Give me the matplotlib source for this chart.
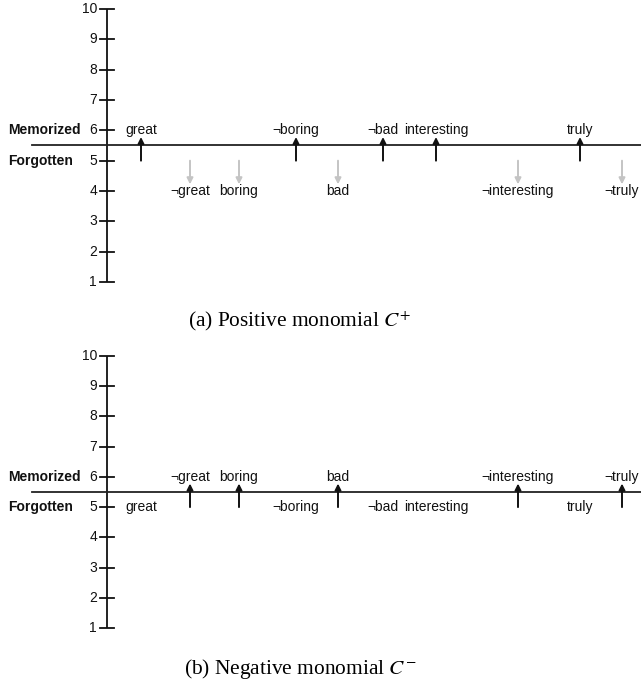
import matplotlib
matplotlib.use("Agg")
import matplotlib.pyplot as plt

plt.rcParams['font.family'] = ['Liberation Sans', 'DejaVu Sans']
plt.rcParams['mathtext.fontset'] = 'stix'

# ---- data ----
words = ["great", "¬great", "boring", "¬boring", "bad", "¬bad",
         "interesting", "¬interesting", "truly", "¬truly"]
word_x = [141, 190, 239, 296, 338, 383, 436, 518, 580, 622]
pos_memorized = [1, 0, 0, 1, 0, 1, 1, 0, 1, 0]
neg_memorized = [0, 1, 1, 0, 1, 0, 0, 1, 0, 1]
y_ticks = [1, 2, 3, 4, 5, 6, 7, 8, 9, 10]
captions = [r"(a) Positive monomial $C^{+}$", r"(b) Negative monomial $C^{-}$"]

W, H = 641, 692
fig = plt.figure(figsize=(W / 100, H / 100), dpi=100)

AXIS_X = 107
BLACK = "#111111"
GRAY = "#c4c4c4"


def panel(top_px, ylims, memorized, show_forgot_arrows, forgot_level):
    ax = fig.add_axes([0, 1 - (top_px + 300) / H, 1, 300 / H])
    ax.set_xlim(0, W)
    ax.set_ylim(*ylims)
    ax.axis("off")
    # vertical axis
    ax.plot([AXIS_X, AXIS_X], [y_ticks[0], y_ticks[-1]], color=BLACK, lw=1.3,
            solid_capstyle="butt")
    for t in y_ticks:
        ax.plot([AXIS_X - 7, AXIS_X + 7], [t, t], color=BLACK, lw=1.3)
        ax.text(AXIS_X - 10, t, str(t), ha="right", va="center", fontsize=10,
                color=BLACK)
    # separator
    ax.plot([32, W], [5.5, 5.5], color="#222222", lw=1.3)
    ax.text(8, 6, "Memorized", ha="left", va="center", fontsize=10,
            fontweight="bold", color=BLACK)
    ax.text(8, 5, "Forgotten", ha="left", va="center", fontsize=10,
            fontweight="bold", color=BLACK)
    for w, x, m in zip(words, word_x, memorized):
        if m:
            ax.annotate("", xy=(x, 5.78), xytext=(x, 5.0),
                        arrowprops=dict(arrowstyle="-|>", color=BLACK, lw=1.4,
                                        mutation_scale=9, shrinkA=0, shrinkB=0))
            ax.text(x, 6, w, ha="center", va="center", fontsize=10, color=BLACK)
        else:
            if show_forgot_arrows:
                ax.annotate("", xy=(x, 4.22), xytext=(x, 5.0),
                            arrowprops=dict(arrowstyle="-|>", color=GRAY, lw=1.4,
                                            mutation_scale=9, shrinkA=0, shrinkB=0))
            ax.text(x, forgot_level, w, ha="center", va="center", fontsize=10,
                    color=BLACK)
    return ax


panel(0, (1 - 18 / 30.33, 10 + 9 / 30.33), pos_memorized, True, 4)
panel(350, (1 - 22 / 30.22, 10 + 6 / 30.22), neg_memorized, False, 5)

fig.text(300 / W, 1 - 321 / H, captions[0], ha="center", va="center",
         fontsize=15.4, family="Liberation Serif")
fig.text(300 / W, 1 - 669 / H, captions[1], ha="center", va="center",
         fontsize=15.4, family="Liberation Serif")

fig.savefig("out.png", dpi=100)
